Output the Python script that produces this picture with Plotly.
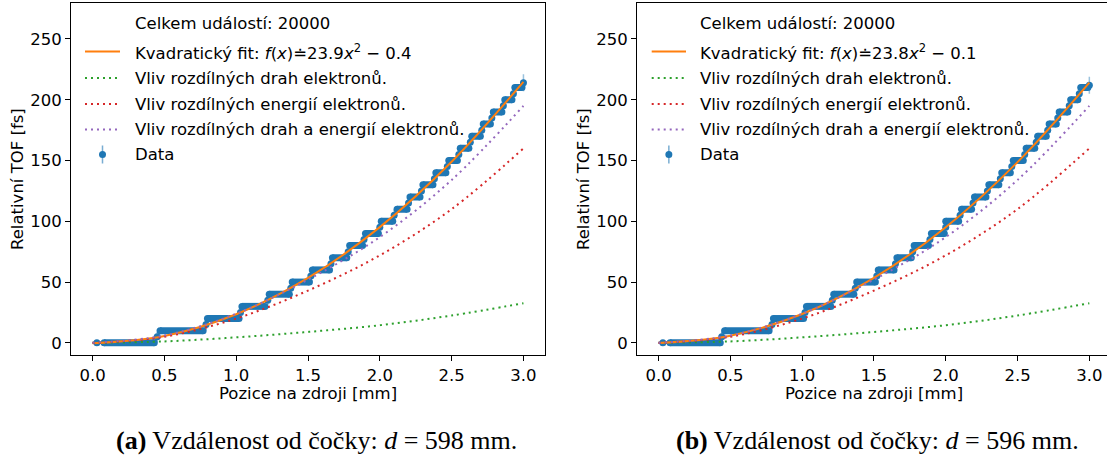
import plotly.graph_objects as go

W, H = 1107, 461

# ---------------- data ----------------
levels = [0, 10, 20, 30, 40, 50, 60, 70, 80, 90, 100, 110, 120, 130, 140, 150,
          160, 170, 180, 190, 200, 210]

# panel (a): d = 598 mm
step_start_a = [0.08, 0.47, 0.80, 1.04, 1.23, 1.39, 1.53, 1.67, 1.79, 1.90, 2.01,
                2.12, 2.21, 2.30, 2.39, 2.48, 2.56, 2.64, 2.72, 2.79, 2.87, 2.94]
step_end_a = [0.43, 0.77, 1.02, 1.20, 1.37, 1.51, 1.65, 1.77, 1.88, 1.99, 2.09,
              2.19, 2.28, 2.37, 2.46, 2.54, 2.62, 2.70, 2.77, 2.85, 2.92, 2.99]
single_x_a = [0.03, 0.45, 0.79, 1.03, 1.22, 1.38, 1.52, 1.66, 1.78, 1.89, 2.00,
              2.10, 2.20, 2.29, 2.38, 2.47, 2.55, 2.63, 2.71, 2.78, 2.86, 2.93, 3.00]
single_y_a = [0, 5, 15, 25, 35, 45, 55, 65, 75, 85, 95, 105, 115, 125, 135, 145,
              155, 165, 175, 185, 195, 205, 214]
single_err_a = [0, 4, 4, 4, 4, 4, 4, 4, 4, 4, 4, 4, 4, 4, 4, 4, 4, 4, 4, 4, 4, 4, 7]

# panel (b): d = 596 mm
step_start_b = [0.08, 0.46, 0.80, 1.03, 1.22, 1.38, 1.53, 1.66, 1.78, 1.90, 2.00,
                2.11, 2.20, 2.30, 2.39, 2.47, 2.56, 2.64, 2.72, 2.79, 2.87, 2.94]
step_end_b = [0.43, 0.77, 1.01, 1.20, 1.36, 1.51, 1.64, 1.76, 1.88, 1.99, 2.09,
              2.18, 2.28, 2.37, 2.45, 2.54, 2.62, 2.70, 2.77, 2.85, 2.92, 2.99]
single_x_b = [0.03, 0.44, 0.79, 1.02, 1.21, 1.37, 1.52, 1.65, 1.77, 1.89, 2.00,
              2.10, 2.19, 2.29, 2.38, 2.46, 2.55, 2.63, 2.71, 2.78, 2.86, 2.93, 3.00]
single_y_b = [0, 5, 15, 25, 35, 45, 55, 65, 75, 85, 95, 105, 115, 125, 135, 145,
              155, 165, 175, 185, 195, 205, 212]
single_err_b = [0, 4, 4, 4, 4, 4, 4, 4, 4, 4, 4, 4, 4, 4, 4, 4, 4, 4, 4, 4, 4, 4, 7]

# model curves, sampled at these positions [mm]
curve_x = [0.0, 0.5, 1.0, 1.5, 2.0, 2.5, 3.0]
fit_a = [-0.4, 5.6, 23.5, 53.4, 95.2, 149.0, 214.7]
fit_b = [-0.1, 5.9, 23.7, 53.5, 95.1, 148.7, 214.1]
paths = [0.0, 1.2, 4.5, 9.0, 14.5, 22.5, 32.6]
energies = [0.0, 5.0, 20.0, 43.0, 72.0, 110.0, 160.0]
both = [0.0, 6.0, 24.0, 52.0, 87.0, 134.0, 195.0]

fit_labels = ["Kvadratický fit: <i>f</i>(<i>x</i>)≐23.9<i>x</i><sup>2</sup> − 0.4",
              "Kvadratický fit: <i>f</i>(<i>x</i>)≐23.8<i>x</i><sup>2</sup> − 0.1"]
legend_texts = ["Celkem událostí: 20000", None, "Vliv rozdílných drah elektronů.",
                "Vliv rozdílných energií elektronů.", "Vliv rozdílných drah a energií elektronů.", "Data"]
captions = ["<b>(a)</b> Vzdálenost od čočky: <i>d</i> = 598 mm.",
            "<b>(b)</b> Vzdálenost od čočky: <i>d</i> = 596 mm."]
x_ticks = [0.0, 0.5, 1.0, 1.5, 2.0, 2.5, 3.0]
y_ticks = [0, 50, 100, 150, 200, 250]

# ---------------- styling ----------------
BLUE = "#1f77b4"
ORANGE = "#ff7f0e"
GREEN = "#2ca02c"
RED = "#d62728"
PURPLE = "#9467bd"
FONT = "DejaVu Sans"
FS = 16.5
DOT = "2px,4px"

fig = go.Figure()

panels = [
    dict(xa="x", ya="y", ss=step_start_a, se=step_end_a, sx=single_x_a, sy=single_y_a,
         se_err=single_err_a, fit=fit_a),
    dict(xa="x2", ya="y2", ss=step_start_b, se=step_end_b, sx=single_x_b, sy=single_y_b,
         se_err=single_err_b, fit=fit_b),
]

for p in panels:
    xs, ys = [], []
    for s, e, l in zip(p["ss"], p["se"], levels):
        xs += [s, e, None]
        ys += [l, l, None]
    fig.add_trace(go.Scatter(x=xs, y=ys, xaxis=p["xa"], yaxis=p["ya"], mode="lines+markers",
                             line=dict(color=BLUE, width=7), marker=dict(color=BLUE, size=7),
                             showlegend=False, hoverinfo="skip"))
    fig.add_trace(go.Scatter(x=p["sx"], y=p["sy"], xaxis=p["xa"], yaxis=p["ya"], mode="markers",
                             marker=dict(color=BLUE, size=7),
                             error_y=dict(type="data", array=p["se_err"], color="rgba(31,119,180,0.45)",
                                          thickness=1.5, width=0),
                             showlegend=False, hoverinfo="skip"))
    fig.add_trace(go.Scatter(x=curve_x, y=p["fit"], xaxis=p["xa"], yaxis=p["ya"], mode="lines",
                             line=dict(color=ORANGE, width=2, shape="spline"), showlegend=False))
    for vals, col in [(paths, GREEN), (energies, RED), (both, PURPLE)]:
        fig.add_trace(go.Scatter(x=curve_x, y=vals, xaxis=p["xa"], yaxis=p["ya"], mode="lines",
                                 line=dict(color=col, width=2, dash=DOT, shape="spline"),
                                 showlegend=False))

# ---------------- layout ----------------
ydom = [1 - 355 / H, 1 - 2.5 / H]
axis_common = dict(showgrid=False, zeroline=False, showline=True, linecolor="black", linewidth=1,
                   ticks="outside", ticklen=5, tickwidth=1, tickcolor="black",
                   tickfont=dict(family=FONT, size=FS, color="black"))

fig.update_layout(
    width=W, height=H, margin=dict(l=0, r=0, t=0, b=0),
    paper_bgcolor="white", plot_bgcolor="white", showlegend=False,
    xaxis=dict(domain=[71 / W, 545 / W], range=[-0.15, 3.15], anchor="y", mirror=True,
               tickvals=x_ticks, ticktext=[f"{v:.1f}" for v in x_ticks], **axis_common),
    yaxis=dict(domain=ydom, range=[-10, 280], anchor="x", mirror=True,
               tickvals=y_ticks, **axis_common),
    xaxis2=dict(domain=[637 / W, 1.0], range=[-0.15, -0.15 + 470 / 143.6], anchor="y2", mirror=True,
                tickvals=x_ticks, ticktext=[f"{v:.1f}" for v in x_ticks], **axis_common),
    yaxis2=dict(domain=ydom, range=[-10, 280], anchor="x2", mirror=False,
                tickvals=y_ticks, **axis_common),
)

ann = []
shapes = []

def px(xp):
    return xp / W

def py(yp):
    return 1 - yp / H

# axis titles and captions
for cx in [308, 874]:
    ann.append(dict(x=px(cx), y=py(393), xref="paper", yref="paper", text="Pozice na zdroji [mm]",
                    showarrow=False, xanchor="center", yanchor="middle",
                    font=dict(family=FONT, size=FS, color="black")))
for yx in [17, 583]:
    ann.append(dict(x=px(yx), y=py(179), xref="paper", yref="paper", text="Relativní TOF [fs]",
                    showarrow=False, textangle=-90, xanchor="center", yanchor="middle",
                    font=dict(family=FONT, size=FS, color="black")))
for capx, cap in zip([316, 878], captions):
    ann.append(dict(x=px(capx), y=py(440), xref="paper", yref="paper", text=cap,
                    showarrow=False, xanchor="center", yanchor="middle",
                    font=dict(family="Liberation Serif", size=26, color="black")))

# manual legends
rows = [23, 51.5, 78, 104, 129.5, 154.5]
for (hx0, hx1, tx), flabel in zip([(85, 120, 132.7), (651.7, 686, 698.3)], fit_labels):
    texts = list(legend_texts)
    texts[1] = flabel
    for r, t in zip(rows, texts):
        ann.append(dict(x=px(tx), y=py(r), xref="paper", yref="paper", text=t, showarrow=False,
                        xanchor="left", yanchor="middle",
                        font=dict(family=FONT, size=FS, color="black")))
    shapes.append(dict(type="line", xref="paper", yref="paper", x0=px(hx0), x1=px(hx1),
                       y0=py(rows[1]), y1=py(rows[1]), line=dict(color=ORANGE, width=2)))
    for r, col in zip(rows[2:5], [GREEN, RED, PURPLE]):
        shapes.append(dict(type="line", xref="paper", yref="paper", x0=px(hx0), x1=px(hx1),
                           y0=py(r), y1=py(r), line=dict(color=col, width=2, dash=DOT)))
    mx = (hx0 + hx1) / 2
    shapes.append(dict(type="line", xref="paper", yref="paper", x0=px(mx), x1=px(mx),
                       y0=py(rows[5] - 9), y1=py(rows[5] + 9),
                       line=dict(color="rgba(31,119,180,0.6)", width=1.5)))
    shapes.append(dict(type="circle", xref="paper", yref="paper", x0=px(mx - 3.5), x1=px(mx + 3.5),
                       y0=py(rows[5] - 3.5), y1=py(rows[5] + 3.5),
                       fillcolor=BLUE, line=dict(color=BLUE, width=0)))

fig.update_layout(annotations=ann, shapes=shapes)
fig.write_html("out.html")
